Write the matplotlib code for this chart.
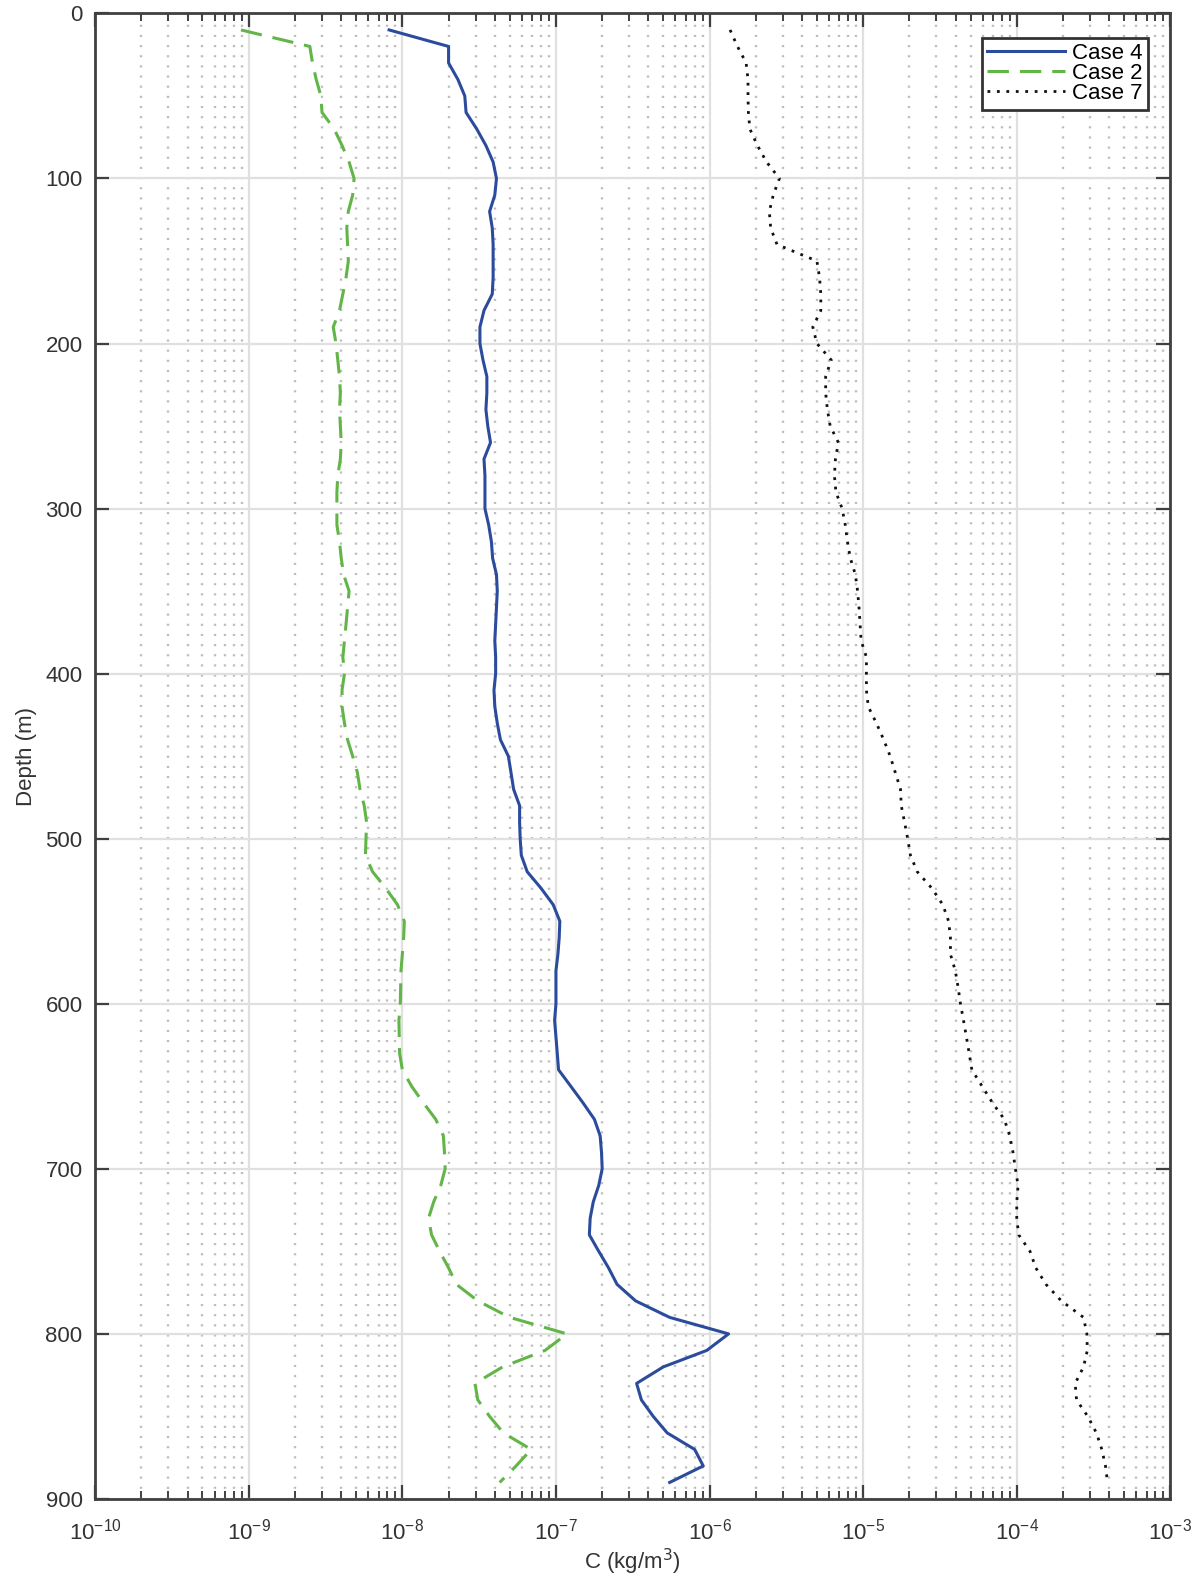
import numpy as np
import matplotlib
matplotlib.use("Agg")
import matplotlib.pyplot as plt
from matplotlib.ticker import FixedLocator, LogFormatterSciNotation

plt.rcParams['font.family'] = ['Liberation Sans', 'DejaVu Sans']

depth = list(range(10, 900, 10))

case4 = [8.2e-9, 2.0e-8, 2.0e-8, 2.3e-8, 2.55e-8, 2.6e-8, 3.05e-8, 3.5e-8, 3.9e-8, 4.1e-8,
         4.0e-8, 3.7e-8, 3.85e-8, 3.9e-8, 3.9e-8, 3.9e-8, 3.85e-8, 3.4e-8, 3.2e-8, 3.2e-8,
         3.35e-8, 3.55e-8, 3.55e-8, 3.5e-8, 3.6e-8, 3.75e-8, 3.4e-8, 3.45e-8, 3.45e-8, 3.45e-8,
         3.65e-8, 3.8e-8, 3.87e-8, 4.1e-8, 4.15e-8, 4.1e-8, 4.05e-8, 4.0e-8, 4.05e-8, 4.05e-8,
         3.95e-8, 4.0e-8, 4.15e-8, 4.35e-8, 4.9e-8, 5.1e-8, 5.3e-8, 5.8e-8, 5.8e-8, 5.85e-8,
         5.95e-8, 6.5e-8, 8.0e-8, 9.6e-8, 1.06e-7, 1.05e-7, 1.03e-7, 1.0e-7, 1.0e-7, 1.0e-7,
         9.8e-8, 1.0e-7, 1.02e-7, 1.04e-7, 1.25e-7, 1.5e-7, 1.78e-7, 1.94e-7, 1.98e-7, 2.0e-7,
         1.9e-7, 1.75e-7, 1.67e-7, 1.65e-7, 1.9e-7, 2.2e-7, 2.5e-7, 3.3e-7, 5.5e-7, 1.33e-6,
         9.6e-7, 5.0e-7, 3.35e-7, 3.6e-7, 4.3e-7, 5.3e-7, 8.0e-7, 9.1e-7, 5.5e-7]

case2 = [8.9e-10, 2.5e-9, 2.6e-9, 2.75e-9, 2.95e-9, 3.0e-9, 3.6e-9, 4.05e-9, 4.5e-9, 4.85e-9,
         4.75e-9, 4.45e-9, 4.35e-9, 4.4e-9, 4.45e-9, 4.3e-9, 4.1e-9, 3.9e-9, 3.55e-9, 3.7e-9,
         3.8e-9, 3.9e-9, 3.95e-9, 3.9e-9, 3.95e-9, 4.0e-9, 3.95e-9, 3.8e-9, 3.75e-9, 3.75e-9,
         3.75e-9, 3.9e-9, 4.0e-9, 4.15e-9, 4.5e-9, 4.4e-9, 4.3e-9, 4.2e-9, 4.1e-9, 4.2e-9,
         4.05e-9, 4.05e-9, 4.2e-9, 4.4e-9, 4.75e-9, 5.1e-9, 5.3e-9, 5.65e-9, 5.85e-9, 5.8e-9,
         5.75e-9, 6.4e-9, 7.8e-9, 9.3e-9, 1.03e-8, 1.02e-8, 1.0e-8, 9.8e-9, 9.75e-9, 9.7e-9,
         9.5e-9, 9.55e-9, 9.6e-9, 1.0e-8, 1.15e-8, 1.37e-8, 1.65e-8, 1.85e-8, 1.88e-8, 1.9e-8,
         1.78e-8, 1.6e-8, 1.48e-8, 1.55e-8, 1.75e-8, 2.0e-8, 2.25e-8, 3.1e-8, 5.0e-8, 1.18e-7,
         8.5e-8, 4.5e-8, 2.97e-8, 3.1e-8, 3.7e-8, 4.55e-8, 6.9e-8, 5.5e-8, 4.3e-8]

case7 = [1.36e-6, 1.52e-6, 1.73e-6, 1.78e-6, 1.78e-6, 1.79e-6, 1.83e-6, 2.05e-6, 2.35e-6, 2.85e-6,
         2.6e-6, 2.45e-6, 2.5e-6, 2.75e-6, 5.0e-6, 5.2e-6, 5.3e-6, 5.3e-6, 4.7e-6, 5.0e-6,
         6.2e-6, 5.7e-6, 5.7e-6, 5.85e-6, 6.1e-6, 6.9e-6, 6.6e-6, 6.5e-6, 6.65e-6, 7.3e-6,
         7.65e-6, 7.9e-6, 8.25e-6, 8.9e-6, 9.2e-6, 9.4e-6, 9.55e-6, 9.7e-6, 1.05e-5, 1.05e-5,
         1.05e-5, 1.08e-5, 1.22e-5, 1.36e-5, 1.5e-5, 1.62e-5, 1.75e-5, 1.77e-5, 1.86e-5, 1.95e-5,
         2.03e-5, 2.25e-5, 2.8e-5, 3.3e-5, 3.6e-5, 3.7e-5, 3.7e-5, 3.98e-5, 4.15e-5, 4.3e-5,
         4.5e-5, 4.7e-5, 4.9e-5, 5.1e-5, 5.95e-5, 6.95e-5, 8.3e-5, 9.0e-5, 9.45e-5, 9.8e-5,
         1.02e-4, 1.0e-4, 1.0e-4, 1.03e-4, 1.22e-4, 1.33e-4, 1.55e-4, 1.95e-4, 2.72e-4, 2.86e-4,
         2.88e-4, 2.72e-4, 2.4e-4, 2.45e-4, 2.9e-4, 3.3e-4, 3.58e-4, 3.78e-4, 3.9e-4]

labels = ["Case 4", "Case 2", "Case 7"]
yticks = [0, 100, 200, 300, 400, 500, 600, 700, 800, 900]
xticks = [1e-10, 1e-9, 1e-8, 1e-7, 1e-6, 1e-5, 1e-4, 1e-3]

fig = plt.figure(figsize=(12.01, 15.8), dpi=100)
ax = fig.add_axes([0.0792, 0.0513, 0.8953, 0.9402])

tc = '#404040'
ax.plot(case4, depth, color='#2b4c9c', lw=2.2, label=labels[0], zorder=3)
ax.plot(case2, depth, color='#62b547', lw=2.2, dashes=(7, 3.6), label=labels[1], zorder=3)
ax.plot(case7, depth, color='#111111', lw=2.0, dashes=(1, 2.4), label=labels[2], zorder=3)

ax.set_xscale('log')
ax.set_xlim(1e-10, 1e-3)
ax.set_ylim(900, 0)
minor = [m * d for d in xticks[:-1] for m in range(2, 10)]
ax.xaxis.set_major_locator(FixedLocator(xticks))
ax.xaxis.set_major_formatter(LogFormatterSciNotation())
ax.xaxis.set_minor_locator(FixedLocator(minor))
ax.yaxis.set_major_locator(FixedLocator(yticks))

ax.grid(which='major', color='#e0e0e0', lw=1.6, zorder=0)
ax.grid(which='minor', axis='x', color='#bdbdbd', lw=1.7, dashes=(0.9, 3.4), zorder=0)
ax.set_axisbelow(True)

ax.tick_params(which='both', direction='in', top=True, right=True, colors=tc,
               labelcolor='#333333')
ax.tick_params(which='major', length=10, width=1.6, labelsize=16)
ax.tick_params(which='minor', length=5.5, width=1.4)
ax.tick_params(axis='x', which='major', pad=14)
ax.tick_params(axis='y', which='major', pad=9)
for s in ax.spines.values():
    s.set_color(tc)
    s.set_linewidth(2.0)

ax.set_ylabel('Depth (m)', fontsize=16, color='#333333', labelpad=6)
ax.set_xlabel('C (kg/m$^3$)', fontsize=16, color='#333333', labelpad=2)

leg = ax.legend(loc='upper right', bbox_to_anchor=(0.979, 0.9837), borderaxespad=0,
                fontsize=16, handlelength=3.5, labelspacing=-0.05, handletextpad=0.3,
                borderpad=0.25, fancybox=False, framealpha=1, edgecolor='#333333')
leg.get_frame().set_linewidth(2.0)

fig.savefig('out.png', dpi=100)
